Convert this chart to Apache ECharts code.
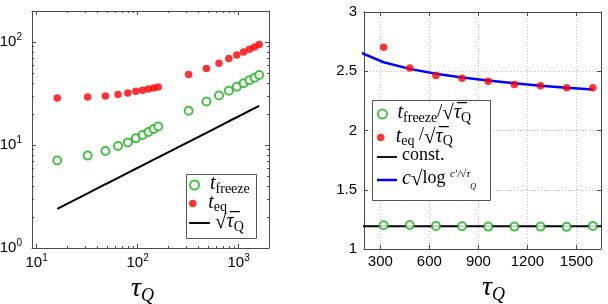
<!DOCTYPE html>
<html><head><meta charset="utf-8">
<script src="https://cdn.jsdelivr.net/npm/echarts@6/dist/echarts.min.js"></script>
<style>html,body{margin:0;padding:0;background:#fff}#c{width:608px;height:304px}</style>
</head><body><div id="c"></div><script>
// ---- data ----
const tauLeft = [16,32,48,64,80,96,112,128,144,160,320,480,640,800,960,1120,1280,1440,1600];
const tFreeze = [7.06,7.89,8.74,9.78,10.6,11.6,12.5,13.4,14.3,15.1,21.5,26.4,30.2,33.7,36.8,39.8,42.5,45.0,47.8];
const tEq = [28.6,29.3,29.9,31.0,32.0,33.2,34.0,35.0,35.8,36.6,48.4,55.4,62.3,69.0,74.9,79.9,85.0,89.6,94.4];
const sqrtRef = [2.4,3.39,4.16,4.8,5.37,5.88,6.35,6.79,7.2,7.59,10.7,13.1,15.2,17.0,18.6,20.1,21.5,22.8,24.0];
const tauRight = [320,480,640,800,960,1120,1280,1440,1600];
const freezeRatio = [1.200,1.203,1.195,1.192,1.189,1.189,1.189,1.187,1.195];
const eqRatio = [2.703,2.528,2.464,2.441,2.416,2.388,2.377,2.360,2.360];
const constTau = [100,2000];
const constVal = [1.193,1.193];
const fitTau = [160,320,480,640,800,960,1120,1280,1440,1600];
const fitVal = [2.670,2.576,2.520,2.479,2.447,2.421,2.398,2.378,2.361,2.345];
// tick values
const logXMajor = [10,100,1000];
const logXMinor = [20,30,40,50,60,70,80,90,200,300,400,500,600,700,800,900];
const logYMajor = [1,10,100];
const logYMinor = [2,3,4,5,6,7,8,9,20,30,40,50,60,70,80,90];
const linXTicks = [300,600,900,1200,1500];

const zip = (a,b) => a.map((v,i)=>[v,b[i]]);
const AX = '#4a4a4a';
const GREEN = '#1cb01c';
const SANS = 'Liberation Sans';
const SERIF = 'Liberation Serif';

const powRich = {
  b:{fontSize:15,fontFamily:SANS,color:'#000',lineHeight:19,verticalAlign:'middle'},
  s:{fontSize:10,fontFamily:SANS,color:'#000',lineHeight:10,verticalAlign:'top'}
};
const powFmt = v => '{b|10}{s|' + Math.round(Math.log10(v)) + '}';

function logAxis(grid, pos, min, max, ticks, len, labels, isY) {
  const a = {
    gridIndex: grid, type:'log', position: pos, min: min, max: max,
    axisLine:{show: len > 3, lineStyle:{color:AX,width:1}},
    axisTick:{show:true, inside:true, length:len, customValues:ticks, lineStyle:{color:AX,width:1}},
    axisLabel:{show:!!labels},
    splitLine:{show:false}, minorTick:{show:false}, minorSplitLine:{show:false}
  };
  if (labels) {
    a.axisLabel = {show:true, customValues:ticks, formatter:powFmt, rich:powRich,
      fontSize:15, fontFamily:SANS, color:'#000', margin: isY?10:5};
  }
  return a;
}
const tauName = '{t|τ}{q|Q}';
const tauRich = {
  t:{fontSize:28,fontFamily:SERIF,fontStyle:'italic',color:'#000',lineHeight:30,verticalAlign:'top'},
  q:{fontSize:18,fontFamily:SERIF,fontStyle:'italic',color:'#000',lineHeight:18,verticalAlign:'bottom'}
};
const plain = v => String(v);

const xAxes = [
  Object.assign(logAxis(0,'bottom',9,2000,logXMajor,4,true,false),
    {name:tauName,nameLocation:'middle',nameGap:13,nameTextStyle:{rich:tauRich,padding:[0,16,0,0]}}),
  logAxis(0,'top',9,2000,logXMajor,4,false),
  logAxis(0,'bottom',9,2000,logXMinor,2,false),
  logAxis(0,'top',9,2000,logXMinor,2,false),
  {gridIndex:1,type:'value',position:'bottom',min:200,max:1650,
   axisLine:{show:true,lineStyle:{color:AX}},
   axisTick:{show:true,inside:true,length:4,customValues:linXTicks,lineStyle:{color:AX}},
   axisLabel:{customValues:linXTicks,formatter:plain,fontSize:15,fontFamily:SANS,color:'#000',margin:5},
   splitLine:{show:true,lineStyle:{color:'#c4c4c4',type:[1,2],width:1}},
   name:tauName,nameLocation:'middle',nameGap:13,nameTextStyle:{rich:tauRich,padding:[0,0,0,22]}},
  {gridIndex:1,type:'value',position:'top',min:200,max:1650,
   axisLine:{show:true,lineStyle:{color:AX}},
   axisTick:{show:true,inside:true,length:4,customValues:linXTicks,lineStyle:{color:AX}},
   axisLabel:{show:false},splitLine:{show:false}}
];
const yAxes = [
  logAxis(0,'left',1,200,logYMajor,4,true,true),
  logAxis(0,'right',1,200,logYMajor,4,false),
  logAxis(0,'left',1,200,logYMinor,2,false),
  logAxis(0,'right',1,200,logYMinor,2,false),
  {gridIndex:1,type:'value',position:'left',min:1,max:3,interval:0.5,
   axisLine:{show:true,lineStyle:{color:AX}},
   axisTick:{show:true,inside:true,length:4,lineStyle:{color:AX}},
   axisLabel:{formatter:plain,fontSize:15,fontFamily:SANS,color:'#000',margin:7},
   splitLine:{show:true,lineStyle:{color:'#c4c4c4',type:[1,2],width:1}}},
  {gridIndex:1,type:'value',position:'right',min:1,max:3,interval:0.5,
   axisLine:{show:true,lineStyle:{color:AX}},
   axisTick:{show:true,inside:true,length:4,lineStyle:{color:AX}},
   axisLabel:{show:false},splitLine:{show:false}}
];

const greenStyle = {color:'#fff',borderColor:GREEN,borderWidth:2};
const series = [
  {name:'tf',type:'scatter',xAxisIndex:0,yAxisIndex:0,data:zip(tauLeft,tFreeze),symbol:'circle',symbolSize:8,itemStyle:greenStyle,z:3},
  {name:'te',type:'scatter',xAxisIndex:0,yAxisIndex:0,data:zip(tauLeft,tEq),symbol:'circle',symbolSize:7.5,itemStyle:{color:'#ff0000'},z:3},
  {name:'sq',type:'line',xAxisIndex:0,yAxisIndex:0,data:zip(tauLeft,sqrtRef),showSymbol:false,symbol:'none',lineStyle:{color:'#000',width:2},itemStyle:{color:'#000'},z:2},
  {name:'const',type:'line',xAxisIndex:4,yAxisIndex:4,data:zip(constTau,constVal),showSymbol:false,symbol:'none',lineStyle:{color:'#000',width:2},itemStyle:{color:'#000'},z:2},
  {name:'fit',type:'line',xAxisIndex:4,yAxisIndex:4,data:zip(fitTau,fitVal),showSymbol:false,symbol:'none',lineStyle:{color:'#0000ff',width:2.5},itemStyle:{color:'#0000ff'},z:2},
  {name:'tfr',type:'scatter',xAxisIndex:4,yAxisIndex:4,data:zip(tauRight,freezeRatio),symbol:'circle',symbolSize:8,itemStyle:greenStyle,z:3},
  {name:'ter',type:'scatter',xAxisIndex:4,yAxisIndex:4,data:zip(tauRight,eqRatio),symbol:'circle',symbolSize:7.5,itemStyle:{color:'#ff0000'},z:3}
];

const legRich = {
  t:{fontSize:20,fontFamily:SERIF,fontStyle:'italic',color:'#000',lineHeight:22,verticalAlign:'top'},
  s:{fontSize:14,fontFamily:SERIF,color:'#000',lineHeight:14,verticalAlign:'bottom'},
  n:{fontSize:18,fontFamily:SERIF,color:'#000',lineHeight:22,verticalAlign:'top'},
  r:{fontSize:21,fontFamily:SERIF,color:'#000',lineHeight:22,verticalAlign:'top'},
  f:{fontSize:11,fontFamily:SERIF,fontStyle:'italic',color:'#000',lineHeight:22,verticalAlign:'top'},
  fs:{fontSize:8,fontFamily:SERIF,fontStyle:'italic',color:'#000',lineHeight:12,verticalAlign:'bottom'}
};
const LINE2 = 'path://M0 0H22V2H0Z';
const LINE25 = 'path://M0 0H20V2.5H0Z';
function leg(name, text, left, cy, w, h, icon) {
  const item = icon ? {name:name, icon:icon} : name;
  return {data:[item], left:left, top:cy-11, padding:0, itemWidth:w, itemHeight:h,
    selectedMode:false, formatter:text, textStyle:{rich:legRich,color:'#000'}, z:10};
}
const legends = [
  leg('tf','{t|t}{s|freeze}',189,185,21,9),
  leg('te','{t|t}{s|eq}',189,203.5,21,7.5),
  leg('sq','{r|√}{t|τ̅}{s|Q}',189,223,21,2,LINE2),
  leg('tfr','{t|t}{s|freeze}{n|/}{r|√}{t|τ̅}{s|Q}',377,114,20,9),
  leg('ter','{t|t}{s|eq}{n| /}{r|√}{t|τ̅}{s|Q}',377,137.5,20,7.5),
  leg('const','{n|const.}',377,157,20,2,LINE2),
  leg('fit','{t|c}{r|√}{n|log }{f|c′/√τ}{fs|Q}',377,180,20,2.5,LINE25)
];

const chart = echarts.init(document.getElementById('c'), null, {renderer:'canvas'});
chart.setOption({
  animation:false,
  backgroundColor:'#fff',
  grid:[
    {left:32,top:11,width:237,height:237,containLabel:false,outerBoundsMode:'none'},
    {left:364,top:12,width:237,height:237,containLabel:false,outerBoundsMode:'none'}
  ],
  xAxis:xAxes, yAxis:yAxes, series:series, legend:legends,
  graphic:[
    {type:'rect',shape:{x:186.5,y:174.5,width:70,height:64},style:{fill:'#fff',stroke:'#555',lineWidth:1},z:5},
    {type:'rect',shape:{x:372.5,y:100.5,width:118,height:100},style:{fill:'#fff',stroke:'#555',lineWidth:1},z:5}
  ]
});
</script></body></html>
